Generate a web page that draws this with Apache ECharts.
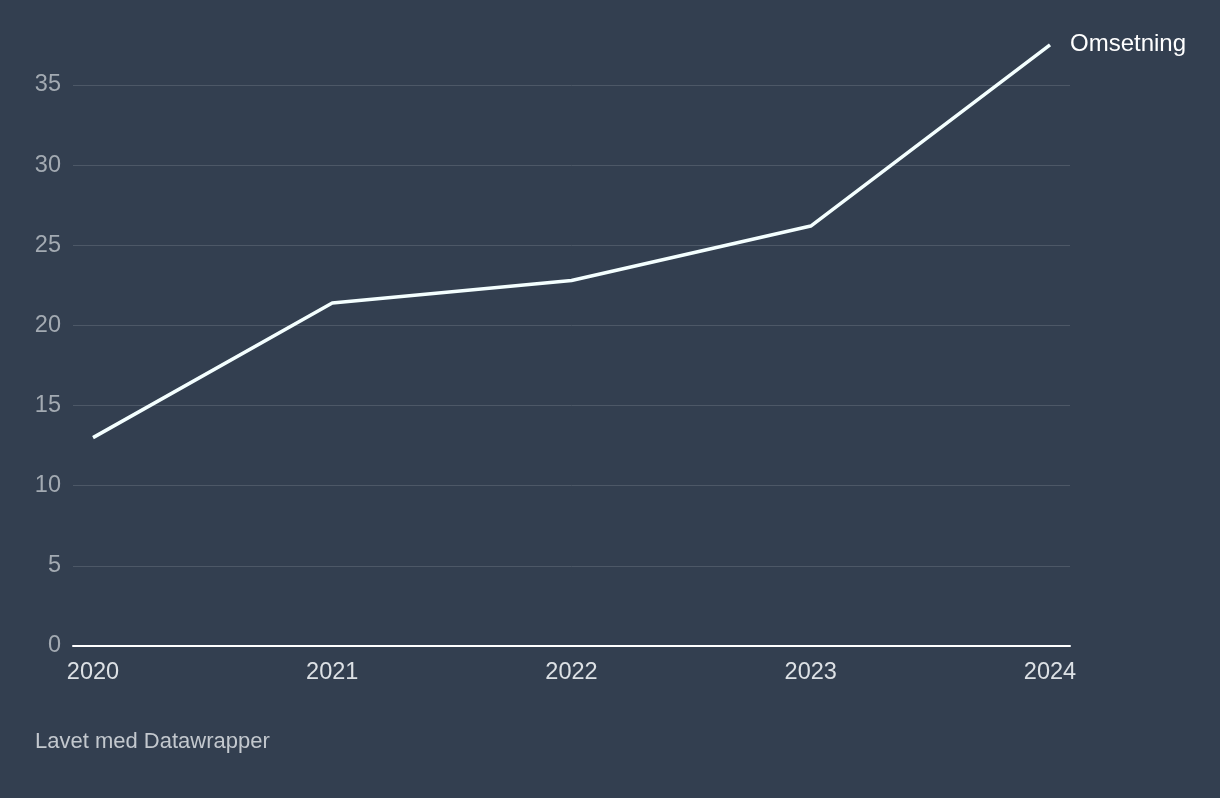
<!DOCTYPE html>
<html>
<head>
<meta charset="utf-8">
<script src="https://cdn.jsdelivr.net/npm/echarts@6/dist/echarts.min.js"></script>
<style>
html,body{margin:0;padding:0;background:#333f50;}
#chart{width:1220px;height:798px;}
</style>
</head>
<body>
<div id="chart"></div>
<script>
const years = [2020, 2021, 2022, 2023, 2024];
const omsetning = [13.0, 21.4, 22.8, 26.2, 37.5];
const seriesName = 'Omsetning';
const yTicks = [0, 5, 10, 15, 20, 25, 30, 35];
const footer = 'Lavet med Datawrapper';

const chart = echarts.init(document.getElementById('chart'));
const font = 'Helvetica, Arial, "Liberation Sans", sans-serif';
chart.setOption({
  backgroundColor: '#333f50',
  animation: false,
  grid: { left: 73, right: 150, top: 85, bottom: 152 },
  graphic: [{
    type: 'text', left: 35, top: 731,
    style: { text: footer, fill: '#c3c8ce', font: '22px ' + font }
  }],
  xAxis: {
    type: 'value',
    min: 2019.9164, max: 2024.0836,
    axisLine: { show: true, lineStyle: { color: '#ffffff', width: 2 } },
    axisTick: { show: false },
    splitLine: { show: false },
    axisLabel: {
      customValues: years,
      color: '#dde1e5', fontSize: 23.5, fontFamily: font, margin: 15,
      formatter: v => String(Math.round(v))
    }
  },
  yAxis: {
    type: 'value', min: 0, max: 35, interval: 5,
    axisLine: { show: false },
    axisTick: { show: false },
    splitLine: { lineStyle: { color: '#4d5867', width: 1 } },
    axisLabel: {
      customValues: yTicks,
      color: '#a3aab2', fontSize: 23.5, fontFamily: font, margin: 12,
      padding: [6, 0, 0, 0]
    }
  },
  series: [{
    name: seriesName,
    type: 'line',
    clip: false,
    symbol: 'none',
    data: years.map((y, i) => [y, omsetning[i]]),
    lineStyle: { color: '#f4ffff', width: 3.5 },
    z: 5,
    endLabel: {
      show: true, formatter: seriesName, color: '#ffffff',
      fontSize: 24, fontFamily: font, distance: 20, offset: [0, -1]
    }
  }]
});
</script>
</body>
</html>
